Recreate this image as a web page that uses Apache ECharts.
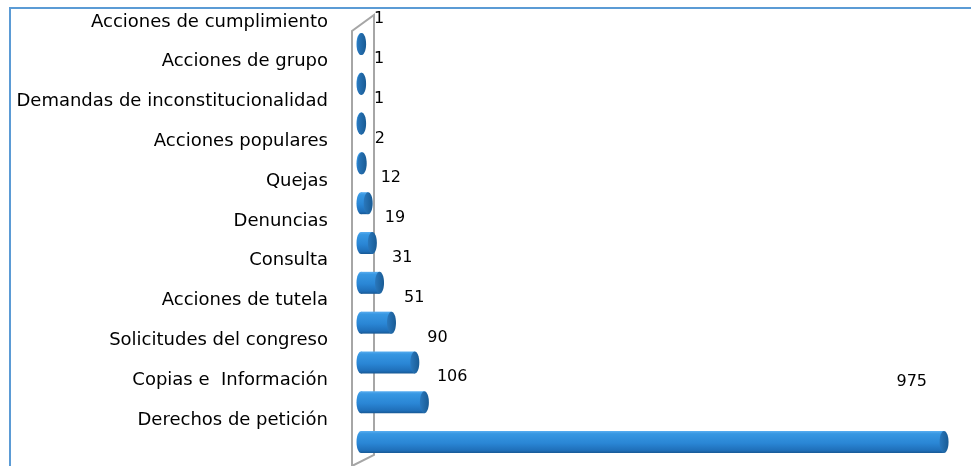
<!DOCTYPE html>
<html>
<head>
<meta charset="utf-8">
<script src="https://cdn.jsdelivr.net/npm/echarts@6/dist/echarts.min.js"></script>
<style>
html,body{margin:0;padding:0;background:#fff;}
#chart{width:971px;height:466px;}
</style>
</head>
<body>
<div id="chart"></div>
<script>
// Categories, top to bottom as shown
const categories = [
  'Acciones de cumplimiento',
  'Acciones de grupo',
  'Demandas de inconstitucionalidad',
  'Acciones populares',
  'Quejas',
  'Denuncias',
  'Consulta',
  'Acciones de tutela',
  'Solicitudes del congreso',
  'Copias e  Información',
  'Derechos de petición'
];
const values = [1, 1, 1, 2, 12, 19, 31, 51, 90, 106, 975];

const chart = echarts.init(document.getElementById('chart'), null, {renderer: 'canvas'});

const bodyGrad = () => new echarts.graphic.LinearGradient(0, 0, 0, 1, [
  {offset: 0, color: '#58adf0'},
  {offset: 0.12, color: '#3797e2'},
  {offset: 0.55, color: '#2a86d5'},
  {offset: 0.88, color: '#1f6fb9'},
  {offset: 1, color: '#175894'}
]);
const capGrad = () => new echarts.graphic.LinearGradient(0, 0, 1, 0, [
  {offset: 0, color: '#2a78bd'},
  {offset: 1, color: '#195b94'}
]);

const lastIdx = values.length - 1;

function renderBar(params, api) {
  const v = api.value(0);
  const idx = api.value(1);
  const end = api.coord([v, idx]);
  const start = api.coord([0, idx]);
  const h = 22, rx = 4.5;
  const cy = end[1];
  const children = [
    {type: 'ellipse', shape: {cx: start[0], cy: cy, rx: rx, ry: h / 2}, style: {fill: bodyGrad()}},
    {type: 'rect', shape: {x: start[0], y: cy - h / 2, width: Math.max(end[0] - start[0], 0), height: h}, style: {fill: bodyGrad()}},
    {type: 'ellipse', shape: {cx: end[0], cy: cy, rx: rx, ry: h / 2}, style: {fill: capGrad()}}
  ];
  const isLast = idx === lastIdx;
  children.push({
    type: 'text',
    style: {
      text: String(v),
      x: isLast ? end[0] - 17 : end[0] + rx + 8,
      y: isLast ? cy - 60 : cy - 25,
      fill: '#000',
      fontSize: 16,
      fontFamily: 'DejaVu Sans',
      align: isLast ? 'right' : 'left',
      verticalAlign: 'middle'
    }
  });
  return {type: 'group', children: children};
}

function renderWall(params, api) {
  const cs = params.coordSys;
  const gx = cs.x, gy = cs.y, gh = cs.height;
  const lx = gx - 9, rxp = gx + 13;
  return {
    type: 'polyline',
    shape: {points: [[lx, gy + gh + 6], [lx, gy + 7], [rxp, gy - 9], [rxp, gy + gh - 7], [lx, gy + gh + 4]]},
    style: {stroke: '#a6a6a6', lineWidth: 2, fill: null}
  };
}

const option = {
  backgroundColor: '#fff',
  animation: false,
  grid: {left: 361, right: 12, top: 22, bottom: 4, containLabel: false},
  xAxis: {type: 'value', min: 0, max: 1000, show: false},
  yAxis: {
    type: 'category',
    data: categories,
    inverse: true,
    axisLine: {show: false},
    axisTick: {show: false},
    splitLine: {show: false},
    axisLabel: {
      interval: 0,
      showMinLabel: true,
      showMaxLabel: true,
      hideOverlap: false,
      margin: 33,
      fontSize: 18,
      fontFamily: 'DejaVu Sans',
      color: '#000',
      verticalAlign: 'bottom',
      lineHeight: 44
    }
  },
  graphic: [
    {type: 'polyline', shape: {points: [[10, 466], [10, 8], [971, 8]]}, style: {stroke: '#5b9bd5', lineWidth: 2, fill: null}, z: 100}
  ],
  series: [
    {
      type: 'custom',
      name: 'wall',
      renderItem: renderWall,
      data: [[0, 0]],
      encode: {x: 0, y: 1},
      clip: false,
      silent: true,
      z: 1
    },
    {
      type: 'custom',
      name: 'valores',
      renderItem: renderBar,
      data: values.map((v, i) => [v, i]),
      encode: {x: 0, y: 1},
      clip: false,
      z: 2
    }
  ]
};
chart.setOption(option);
</script>
</body>
</html>
